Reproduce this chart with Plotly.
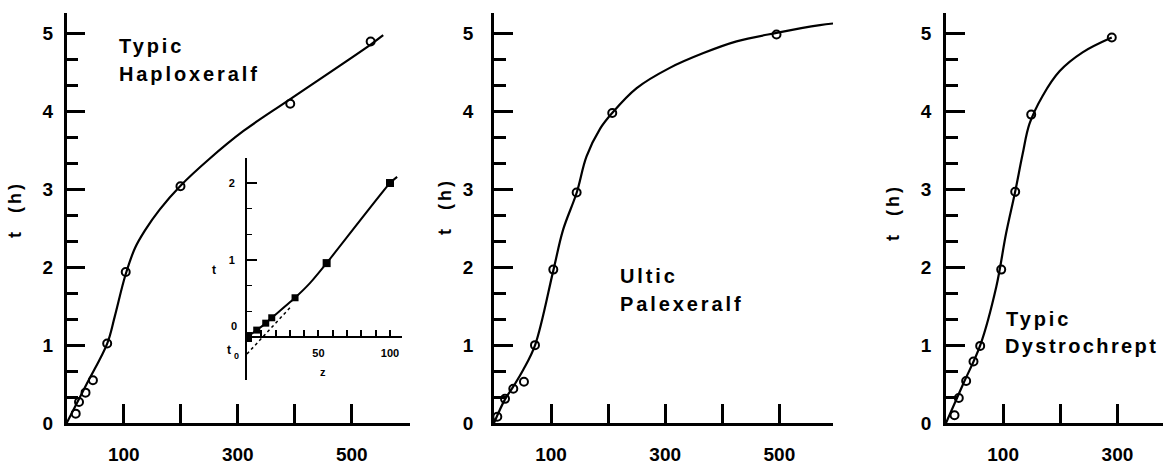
import plotly.graph_objects as go

W, H = 1163, 473

# ---- Typic Haploxeralf: measured points and fitted curve ----
p1_x = [15.8, 21.6, 33, 46, 71, 103.5, 199.5, 392, 533]
p1_t = [0.12, 0.27, 0.39, 0.55, 1.02, 1.94, 3.04, 4.10, 4.90]
c1_x = [0, 35, 71, 84, 103, 120, 137, 163, 200, 250, 310, 390, 533, 555]
c1_t = [0, 0.50, 1.02, 1.36, 1.90, 2.25, 2.47, 2.74, 3.05, 3.39, 3.75, 4.15, 4.86, 4.98]

# ---- Ultic Palexeralf ----
p2_x = [5.8, 19.3, 33.8, 52.5, 71.8, 103.9, 144.8, 207.2, 495]
p2_t = [0.08, 0.31, 0.44, 0.53, 1.00, 1.97, 2.96, 3.98, 4.99]
c2_x = [0, 19, 34, 51, 72, 104, 121, 145, 162, 186, 207, 250, 308, 367, 425, 495, 571, 594]
c2_t = [0, 0.30, 0.47, 0.68, 1.00, 1.96, 2.48, 2.96, 3.42, 3.78, 3.98, 4.30, 4.56, 4.75, 4.90, 5.01, 5.11, 5.13]

# ---- Typic Dystrochrept ----
p3_x = [14.9, 22.4, 35.3, 48.1, 59.8, 96.6, 121.1, 149.1, 290.1]
p3_t = [0.10, 0.32, 0.54, 0.79, 0.99, 1.97, 2.97, 3.96, 4.95]
c3_x = [0, 30, 60, 88, 105, 121, 134, 146, 169, 199, 239, 290]
c3_t = [0, 0.50, 1.00, 1.75, 2.43, 2.97, 3.45, 3.84, 4.20, 4.52, 4.76, 4.95]

# ---- inset: early-time detail (z vs t) ----
in_z = [0, 6.8, 13.1, 17.3, 33.6, 55.7, 100]
in_t = [0, 0.09, 0.18, 0.25, 0.51, 0.96, 2.00]
in_size = [10, 7, 7, 7, 7, 8, 8]
in_line_z = [0, 6.8, 13.1, 17.3, 33.6, 44, 55.7, 100, 105]
in_line_t = [0, 0.09, 0.18, 0.25, 0.51, 0.70, 0.96, 2.00, 2.08]
in_extrap_z = [0, 30]
in_extrap_t = [-0.22, 0.38]

main_y_ticks = [0, 1, 2, 3, 4, 5]
main_y_minor = [1/3, 2/3, 4/3, 5/3, 7/3, 8/3, 10/3, 11/3, 13/3, 14/3]
x_labels_wide = [100, 300, 500]
x_unlabeled_wide = [200, 400]
x_labels_narrow = [100, 300]
x_unlabeled_narrow = [200]
inset_y_ticks = [1, 2]
inset_y_minor = [1/3, 2/3, 4/3, 5/3]
inset_x_labels = [50, 100]
inset_x_unlabeled = [10, 20, 30, 40, 60, 70, 80, 90]

FONT = "Liberation Sans"


def px_x(p):
    return p / W


def px_y(p):
    return 1 - p / H


fig = go.Figure()

panels = [
    ("x", "y", p1_x, p1_t, c1_x, c1_t),
    ("x2", "y2", p2_x, p2_t, c2_x, c2_t),
    ("x3", "y3", p3_x, p3_t, c3_x, c3_t),
]
for xa, ya, px_, pt_, cx_, ct_ in panels:
    fig.add_trace(go.Scatter(x=cx_, y=ct_, mode="lines", xaxis=xa, yaxis=ya,
                             line=dict(color="black", width=2.2, shape="spline", smoothing=1.0),
                             hoverinfo="skip"))
    fig.add_trace(go.Scatter(x=px_, y=pt_, mode="markers", xaxis=xa, yaxis=ya,
                             marker=dict(symbol="circle-open", size=8, color="black", opacity=1,
                                         line=dict(width=2, color="black"))))

# inset traces
fig.add_trace(go.Scatter(x=in_extrap_z, y=in_extrap_t, mode="lines", xaxis="x4", yaxis="y4",
                         line=dict(color="black", width=1.5, dash="dot")))
fig.add_trace(go.Scatter(x=in_line_z, y=in_line_t, mode="lines", xaxis="x4", yaxis="y4",
                         line=dict(color="black", width=2, shape="spline", smoothing=0.5)))
fig.add_trace(go.Scatter(x=in_z, y=in_t, mode="markers", xaxis="x4", yaxis="y4",
                         marker=dict(symbol="square", size=in_size, color="black", opacity=1,
                                     line=dict(width=0))))

y_dom = [px_y(423), px_y(13)]
y_rng = [0, 5.265]


def y_axis(anchor, standoff):
    return dict(domain=y_dom, range=y_rng, anchor=anchor, showline=True, linecolor="black",
                linewidth=2.5, ticks="inside", ticklen=19, tickwidth=2.5, tickcolor="black",
                tickvals=main_y_ticks, showgrid=False, zeroline=False,
                tickfont=dict(family=FONT, size=19, color="black", weight="bold"),
                ticklabelstandoff=standoff,
                minor=dict(tickmode="array", tickvals=main_y_minor, ticks="inside", ticklen=12,
                           tickwidth=2.5, tickcolor="black", showgrid=False))


def x_axis(anchor, left, right, xmax, labeled, unlabeled):
    return dict(domain=[px_x(left), px_x(right)], range=[0, xmax], anchor=anchor,
                showline=True, linecolor="black", linewidth=2.5, ticks="inside", ticklen=19,
                tickwidth=2.5, tickcolor="black", tickvals=labeled,
                showgrid=False, zeroline=False, ticklabelstandoff=12,
                tickfont=dict(family=FONT, size=19, color="black", weight="bold"),
                minor=dict(tickmode="array", tickvals=unlabeled, ticks="inside", ticklen=19,
                           tickwidth=2.5, tickcolor="black", showgrid=False))


layout = dict(
    width=W, height=H, margin=dict(l=0, r=0, t=0, b=0),
    paper_bgcolor="white", plot_bgcolor="white", showlegend=False,
    template="none", font=dict(family=FONT, color="black"),
    xaxis=x_axis("y", 66.7, 410, 602, x_labels_wide, x_unlabeled_wide),
    yaxis=y_axis("x", 7),
    xaxis2=x_axis("y2", 494, 833, 594, x_labels_wide, x_unlabeled_wide),
    yaxis2=y_axis("x2", 14),
    xaxis3=x_axis("y3", 946, 1163, 379.7, x_labels_narrow, x_unlabeled_narrow),
    yaxis3=y_axis("x3", 8),
    xaxis4=dict(domain=[px_x(247), px_x(402)], range=[0, 108.4], anchor="free",
                position=px_y(337), showline=True, linecolor="black", linewidth=1.5,
                ticks="inside", ticklen=6, tickwidth=1.5, tickcolor="black",
                tickvals=inset_x_labels, showgrid=False, zeroline=False,
                ticklabelstandoff=6,
                tickfont=dict(family=FONT, size=11, color="black", weight="bold"),
                minor=dict(tickmode="array", tickvals=inset_x_unlabeled, ticks="inside",
                           ticklen=6, tickwidth=1.5, tickcolor="black", showgrid=False)),
    yaxis4=dict(domain=[px_y(380), px_y(158)], range=[-0.558, 2.325], anchor="x4",
                showline=True, linecolor="black", linewidth=2, ticks="inside", ticklen=10,
                tickwidth=1.5, tickcolor="black", tickvals=inset_y_ticks, showgrid=False,
                zeroline=False, ticklabelstandoff=8,
                tickfont=dict(family=FONT, size=11, color="black", weight="bold"),
                minor=dict(tickmode="array", tickvals=inset_y_minor, ticks="inside", ticklen=5,
                           tickwidth=1.2, tickcolor="black", showgrid=False)),
)
fig.update_layout(**layout)


def spaced(txt, sp):
    return f'<span style="letter-spacing:{sp}px">{txt}</span>'


labels = [
    ("Typic", 117, 46, 2.9), ("Haploxeralf", 117, 74, 2.9),
    ("Ultic", 618, 276, 2.9), ("Palexeralf", 618, 304, 2.9),
    ("Typic", 1004, 319, 2.9), ("Dystrochrept", 1003, 346, 2.4),
]
for txt, lx, ly, sp in labels:
    fig.add_annotation(x=px_x(lx), y=px_y(ly), xref="paper", yref="paper", text=spaced(txt, sp),
                       showarrow=False, xanchor="left", yanchor="middle",
                       font=dict(family=FONT, size=20, color="black", weight="bold"))

for tx, ty in [(15, 210), (445, 207), (893, 213)]:
    fig.add_annotation(x=px_x(tx), y=px_y(ty), xref="paper", yref="paper",
                       text=spaced("t\u00a0\u00a0(h)", 3), textangle=-90, showarrow=False,
                       xanchor="center", yanchor="middle",
                       font=dict(family=FONT, size=18, color="black", weight="bold"))

# inset labels (placed in page pixels around the inset axes)
inset_labels = [
    ("0", 234, 326, 11), ("t", 214, 270, 12), ("z", 323, 372, 11),
    ("t", 229, 350, 12), ("0", 236, 356, 9),
]
for txt, lx, ly, fs in inset_labels:
    fig.add_annotation(x=px_x(lx), y=px_y(ly), xref="paper", yref="paper", text=txt,
                       showarrow=False, xanchor="center", yanchor="middle",
                       font=dict(family=FONT, size=fs, color="black", weight="bold"))

fig.write_html("out.html")
